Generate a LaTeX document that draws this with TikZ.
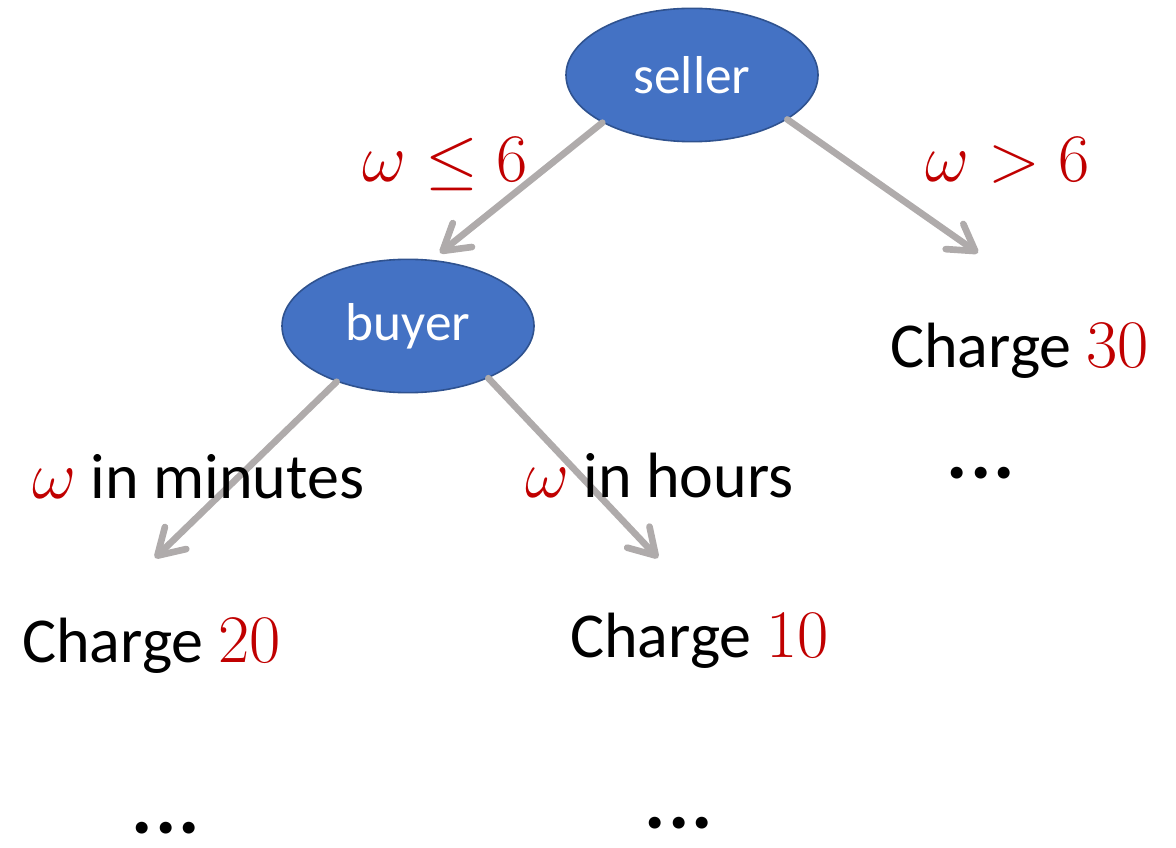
\RequirePackage{fix-cm}
\documentclass[tikz,border=0pt]{standalone}
\usepackage{fontspec}
\setmainfont{Carlito}
\usetikzlibrary{arrows.meta,shapes.geometric}
\definecolor{nodeblue}{HTML}{4472C4}
\definecolor{nodeedge}{HTML}{2F528F}
\definecolor{arrowgrey}{HTML}{AFABAB}
\definecolor{condred}{HTML}{C00000}
\newcommand\redmath[1]{{\color{condred}\fontsize{51}{60}\selectfont$#1$}}
\begin{document}
\begin{tikzpicture}[x=0.75pt,y=-0.75pt,
  decision/.style={ellipse, fill=nodeblue, draw=nodeedge, line width=1.2pt,
    minimum width=189pt, minimum height=100pt, inner sep=0pt, text=white,
    font=\fontsize{40}{48}\selectfont},
  branch/.style={draw=arrowgrey, line width=5pt, line cap=round,
    -{Straight Barb[length=19pt,width=23pt,line cap=round,line join=round]}},
  lbl/.style={anchor=base west, inner sep=0pt, font=\fontsize{48}{58}\selectfont},
  more/.style={anchor=center, inner sep=0pt, font=\fontsize{60}{72}\selectfont\bfseries}
]
\useasboundingbox (0,0) rectangle (1176,848);

\node[decision] (seller) at (692,75) {seller};
\node[decision] (buyer) at (408,326) {buyer};

\coordinate (t1) at (440,253);
\coordinate (t2) at (978,253);
\coordinate (t3) at (155,558);
\coordinate (t4) at (658,558);

\draw[branch] (seller.208) -- (t1);
\draw[branch] (seller.-25.6) -- (t2);
\draw[branch] (buyer.218) -- (t3);
\draw[branch] (buyer.-33.4) -- (t4);

\node[lbl] (le6) at (362,182) {\redmath{\omega \le 6}};
\node[lbl] (gt6) at (925,182) {\redmath{\omega > 6}};
\node[lbl] (mins) at (32,498) {\redmath{\omega} in minutes};
\node[lbl] (hrs) at (525,497) {\redmath{\omega} in hours};

\node[lbl] (c30) at (890,367) {Charge \redmath{30}};
\node[lbl] (c20) at (22,662) {Charge \redmath{20}};
\node[lbl] (c10) at (570,657) {Charge \redmath{10}};

\node[more] (m30) at (981,473) {.\kern1.5pt.\kern1.5pt.};
\node[more] (m20) at (166,828) {.\kern1.5pt.\kern1.5pt.};
\node[more] (m10) at (679,823) {.\kern1.5pt.\kern1.5pt.};
\end{tikzpicture}
\end{document}
